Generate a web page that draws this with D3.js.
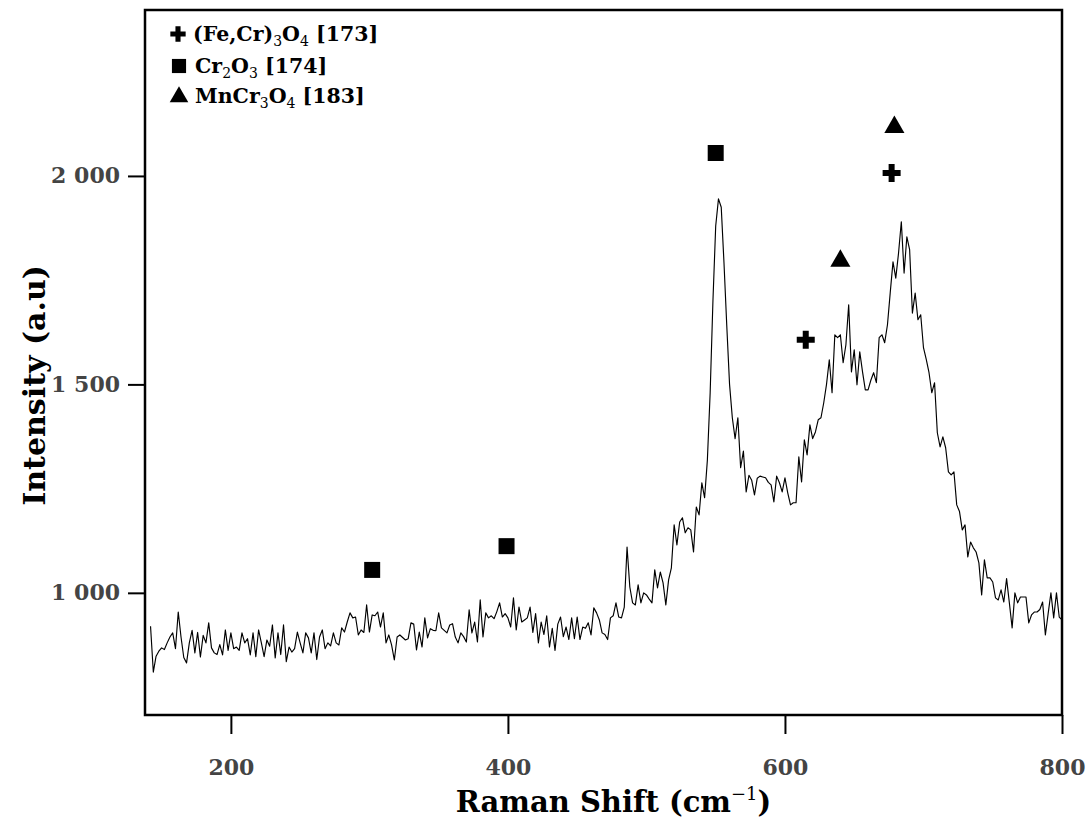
<!DOCTYPE html>
<html>
<head>
<meta charset="utf-8">
<script src="https://cdn.jsdelivr.net/npm/d3@7"></script>
<style>
  html, body { margin: 0; padding: 0; background: #fff; }
  svg { display: block; }
  text { font-family: "DejaVu Serif", "Liberation Serif", serif; }
</style>
</head>
<body>
<script>
// ---- data ----
const shiftStart = 142;   // first Raman shift sample (cm^-1)
const shiftStep = 2;      // sampling step (cm^-1)
const intensity = [
  920,810,848,860,868,864,880,894,904,866,
  954,894,845,832,880,910,856,905,846,898,
  880,928,868,856,852,876,851,911,862,904,
  866,870,862,904,880,890,851,904,847,911,
  880,847,887,872,923,844,904,852,923,835,
  870,858,866,906,880,856,904,892,856,904,
  840,894,911,866,880,873,904,880,875,916,
  906,930,952,940,942,899,911,905,971,906,
  947,945,954,918,952,880,899,875,839,894,
  899,893,887,890,928,925,863,906,870,940,
  892,914,910,909,952,916,910,904,923,926,
  894,880,904,895,882,959,904,930,882,983,
  894,952,940,945,938,955,976,942,950,940,
  918,988,911,966,930,935,940,966,905,950,
  880,930,900,945,870,915,862,925,942,895,
  918,888,940,890,942,888,918,915,928,899,
  964,952,935,904,900,888,940,945,976,942,
  940,966,1110,1014,976,971,1019,976,1000,995,
  985,976,1055,1012,1050,1024,971,1031,1060,1163,
  1115,1170,1180,1144,1156,1151,1098,1206,1187,1264,
  1228,1319,1480,1700,1880,1945,1925,1790,1640,1500,
  1420,1370,1420,1300,1340,1242,1282,1270,1235,1275,
  1280,1278,1276,1265,1259,1218,1280,1264,1242,1276,
  1240,1211,1216,1216,1326,1266,1367,1331,1403,1370,
  1386,1415,1420,1456,1500,1559,1480,1619,1612,1619,
  1552,1595,1691,1530,1583,1499,1578,1530,1487,1487,
  1510,1528,1504,1612,1619,1600,1643,1720,1794,1755,
  1815,1890,1767,1854,1823,1671,1719,1655,1667,1588,
  1560,1528,1480,1504,1384,1350,1374,1348,1290,1283,
  1290,1211,1195,1151,1163,1086,1122,1108,1098,1072,
  995,1079,1036,1036,1026,988,983,1007,978,1034,
  976,916,1000,976,990,990,990,928,947,954,
  954,960,978,899,950,1000,940,1000,942,935
];

// reference peak markers
const markerNames  = ["(Fe,Cr)3O4 [173]", "Cr2O3 [174]", "MnCr3O4 [183]"];
const markerShapes = ["cross", "square", "triangle"];
const crossX = [615, 677];   const crossY = [1607, 2007];
const squareX = [302, 399, 550]; const squareY = [1055, 1112, 2055];
const triX = [640, 679];     const triY = [1796, 2117];

const xTicks = [200, 400, 600, 800];
const yTicks = [1000, 1500, 2000];
const xDomain = [138, 800];
const yDomain = [707, 2398];

// ---- layout ----
const W = 1089, H = 820;
const m = {left: 145, top: 10, right: 27, bottom: 105};
const iw = W - m.left - m.right, ih = H - m.top - m.bottom;

const svg = d3.select("body").append("svg").attr("width", W).attr("height", H);
const g = svg.append("g").attr("transform", `translate(${m.left},${m.top})`);

const x = d3.scaleLinear().domain(xDomain).range([0, iw]);
const y = d3.scaleLinear().domain(yDomain).range([ih, 0]);

const data = intensity.map((v, i) => ({s: shiftStart + i * shiftStep, v}));

// line
g.append("path").datum(data)
  .attr("fill", "none").attr("stroke", "#000").attr("stroke-width", 1.15)
  .attr("stroke-linejoin", "round")
  .attr("d", d3.line().x(d => x(d.s)).y(d => y(d.v)));

// frame
g.append("rect").attr("x", 0).attr("y", 0).attr("width", iw).attr("height", ih)
  .attr("fill", "none").attr("stroke", "#000").attr("stroke-width", 2.5);

const loc = d3.formatLocale({decimal: ".", thousands: " ", grouping: [3], currency: ["", ""]});
const fmt = loc.format(",d");

// x axis
const xa = g.append("g").attr("transform", `translate(0,${ih})`)
  .call(d3.axisBottom(x).tickValues(xTicks).tickSize(19).tickPadding(25).tickFormat(d3.format("d")));
xa.select(".domain").remove();
xa.selectAll(".tick line").attr("stroke", "#000").attr("stroke-width", 2);
xa.selectAll(".tick text").attr("font-size", 22).attr("font-weight", "bold")
  .attr("fill", "#444").style("font-family", "DejaVu Serif, serif");

// y axis
const ya = g.append("g")
  .call(d3.axisLeft(y).tickValues(yTicks).tickSize(17).tickPadding(8).tickFormat(fmt));
ya.select(".domain").remove();
ya.selectAll(".tick line").attr("stroke", "#000").attr("stroke-width", 2);
ya.selectAll(".tick text").attr("font-size", 22).attr("font-weight", "bold")
  .attr("fill", "#444").style("font-family", "DejaVu Serif, serif");

// axis titles
const xt = svg.append("text").attr("x", m.left + iw / 2 + 10).attr("y", 812)
  .attr("text-anchor", "middle").attr("font-size", 29).attr("font-weight", "bold");
xt.append("tspan").text("Raman Shift (cm");
xt.append("tspan").text("−1").attr("font-size", 18).attr("font-weight", "normal").attr("dy", -12);
xt.append("tspan").text(")").attr("dy", 12);

svg.append("text").attr("transform", `translate(45,${m.top + y(1500) + 1}) rotate(-90)`)
  .attr("text-anchor", "middle").attr("font-size", 30).attr("font-weight", "bold")
  .text("Intensity (a.u)");

// markers
const symType = {cross: d3.symbolCross, square: d3.symbolSquare, triangle: d3.symbolTriangle};
const symSize = {cross: 180, square: 256, triangle: 175};
function drawMarkers(xs, ys, shape) {
  g.selectAll(null).data(xs.map((v, i) => [v, ys[i]])).enter().append("path")
    .attr("transform", d => `translate(${x(d[0])},${y(d[1])})`)
    .attr("d", d3.symbol().type(symType[shape]).size(symSize[shape]))
    .attr("fill", "#000");
}
drawMarkers(crossX, crossY, "cross");
drawMarkers(squareX, squareY, "square");
drawMarkers(triX, triY, "triangle");

// legend
const legY = [34, 66, 96];
const legSize = {cross: 130, square: 200, triangle: 150};
markerNames.forEach((name, i) => {
  const shape = markerShapes[i];
  const lx = shape === "cross" ? 178 : 179;
  svg.append("path").attr("transform", `translate(${lx},${legY[i] + (shape === "triangle" ? 1 : 0)})`)
    .attr("d", d3.symbol().type(symType[shape]).size(legSize[shape])).attr("fill", "#000");
  const t = svg.append("text").attr("x", shape === "cross" ? 193 : 195).attr("y", legY[i] + 7)
    .attr("font-size", 20.5).attr("font-weight", "bold");
  // split chemical formula digits into subscripts (before the bracket)
  const [formula, ref] = [name.slice(0, name.indexOf(" [")), name.slice(name.indexOf(" ["))];
  const parts = formula.match(/(\d+|\D+)/g);
  let sub = false;
  parts.forEach(p => {
    const isNum = /^\d+$/.test(p);
    const ts = t.append("tspan").text(p);
    if (isNum) { ts.attr("font-size", 14).attr("font-weight", "normal").attr("dy", sub ? 0 : 5); sub = true; }
    else { if (sub) ts.attr("dy", -5); sub = false; }
  });
  const tr = t.append("tspan").text(ref);
  if (sub) tr.attr("dy", -5);
});
</script>
</body>
</html>
